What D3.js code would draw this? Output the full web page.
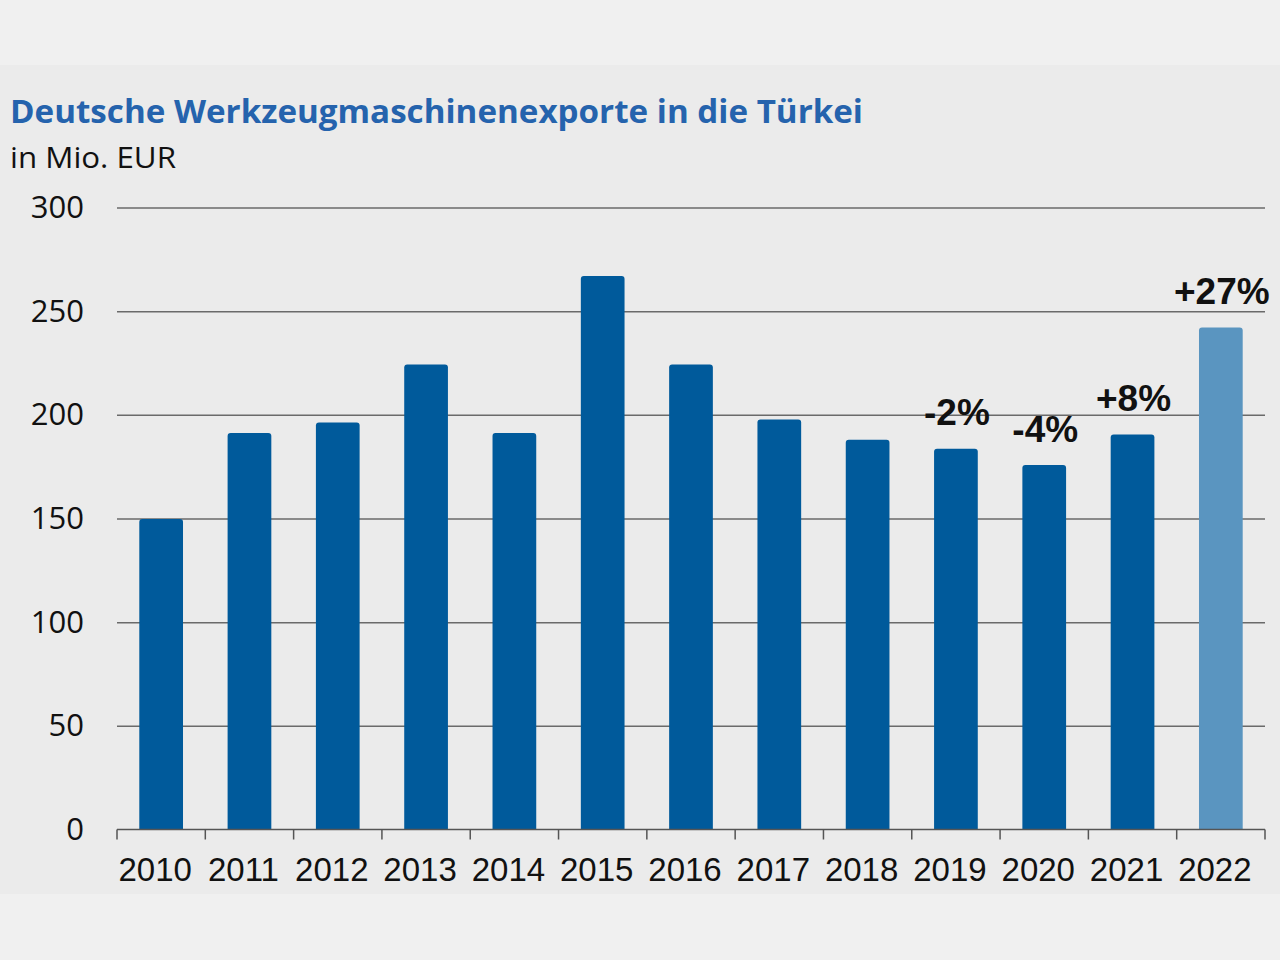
<!DOCTYPE html>
<html>
<head>
<meta charset="utf-8">
<script src="https://cdn.jsdelivr.net/npm/d3@7"></script>
<style>
  html, body { margin: 0; padding: 0; background: #f0f0f0; }
  svg { display: block; }
</style>
</head>
<body>
<svg id="chart" width="1280" height="960"></svg>
<script>
const years = ["2010","2011","2012","2013","2014","2015","2016","2017","2018","2019","2020","2021","2022"];
const values = [149.7, 191.2, 196.3, 224.3, 191.2, 267, 224.3, 197.7, 188, 183.7, 175.8, 190.5, 242.1];
const yTicks = [0, 50, 100, 150, 200, 250, 300];
const annotYears = ["2019", "2020", "2021", "2022"];
const annotTexts = ["-2%", "-4%", "+8%", "+27%"];
const highlightYear = "2022";
const titleText = "Deutsche Werkzeugmaschinenexporte in die Türkei";
const subtitleText = "in Mio. EUR";

const svg = d3.select("#chart");

// panel background
svg.append("rect").attr("x", 0).attr("y", 65).attr("width", 1280).attr("height", 829).attr("fill", "#ebebeb");

const x = d3.scaleBand().domain(years).range([117, 1265]).paddingInner(0.505).paddingOuter(0.2525);
const y = d3.scaleLinear().domain([0, 300]).range([829.5, 207.5]);

// title
svg.append("text")
  .attr("x", 10).attr("y", 123)
  .attr("font-family", "'Open Sans', sans-serif")
  .attr("font-weight", 700)
  .attr("font-size", 33)
  .attr("fill", "#2563ad")
  .attr("textLength", 853)
  .attr("lengthAdjust", "spacingAndGlyphs")
  .text(titleText);

svg.append("text")
  .attr("x", 10).attr("y", 168)
  .attr("font-family", "'Open Sans', sans-serif")
  .attr("font-size", 29)
  .attr("fill", "#111")
  .attr("textLength", 166)
  .attr("lengthAdjust", "spacingAndGlyphs")
  .text(subtitleText);

// gridlines + y labels
const yAxis = d3.axisLeft(y).tickValues(yTicks).tickSize(-(1265 - 117)).tickPadding(33);
const gy = svg.append("g").attr("transform", "translate(117,0)").call(yAxis);
gy.select(".domain").remove();
gy.selectAll(".tick line").attr("stroke", "#6a6a6a").attr("stroke-width", 1.5)
  .filter(d => d === 0).remove();
gy.selectAll(".tick text")
  .attr("font-family", "'Open Sans', sans-serif")
  .attr("font-size", 31)
  .attr("fill", "#111");

// bars
svg.append("g").selectAll("path").data(years).join("path")
  .attr("d", (d, i) => {
    const x0 = x(d), w = x.bandwidth(), y0 = y(values[i]), y1 = y(0), r = 3;
    return `M${x0},${y1}V${y0 + r}Q${x0},${y0} ${x0 + r},${y0}H${x0 + w - r}Q${x0 + w},${y0} ${x0 + w},${y0 + r}V${y1}Z`;
  })
  .attr("fill", d => d === highlightYear ? "#5a95c0" : "#005a9b");

// x axis
const xAxis = d3.axisBottom(x).tickSize(0).tickPadding(0);
const gx = svg.append("g").attr("transform", `translate(0,${y(0)})`).call(xAxis);
gx.select(".domain").attr("stroke", "#555").attr("stroke-width", 1.5).attr("d", `M117,0H1265`);
gx.selectAll(".tick text")
  .attr("font-family", "'Liberation Sans', Arial, sans-serif")
  .attr("font-size", 33)
  .attr("fill", "#111")
  .attr("dy", null)
  .attr("dx", -6)
  .attr("y", 51);
// boundary ticks
const boundaries = years.map(d => x(d) - x.step() * x.paddingInner() / 2).concat([1265]);
gx.selectAll(".bnd").data(boundaries).join("line").attr("class", "bnd")
  .attr("x1", d => d).attr("x2", d => d).attr("y1", 0).attr("y2", 10)
  .attr("stroke", "#555").attr("stroke-width", 1.5);

// annotations
svg.append("g").selectAll("text").data(annotYears).join("text")
  .attr("x", d => x(d) + x.bandwidth() / 2 + 1)
  .attr("y", d => y(values[years.indexOf(d)]) - 23.5)
  .attr("text-anchor", "middle")
  .attr("font-family", "'Liberation Sans', Arial, sans-serif")
  .attr("font-weight", "bold")
  .attr("font-size", 37)
  .attr("fill", "#111")
  .text((d, i) => annotTexts[i]);
</script>
</body>
</html>
